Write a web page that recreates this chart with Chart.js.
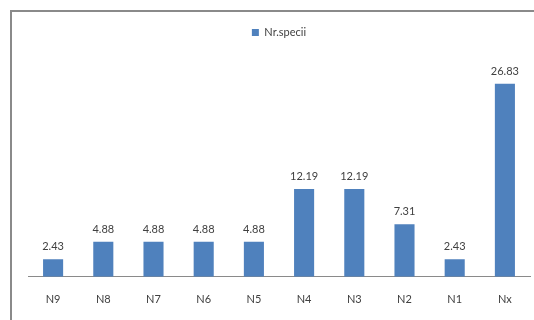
<!DOCTYPE html>
<html>
<head>
<meta charset="utf-8">
<script src="https://cdn.jsdelivr.net/npm/chart.js@4"></script>
<style>
  body { margin: 0; background: #fff; overflow: hidden; }
  #frame {
    position: absolute; left: 10px; top: 10px;
    width: 560px; height: 340px;
    border: 2px solid #8a8a8a;
  }
  #wrap { position: absolute; left: 0; top: 0; width: 534px; height: 322px; }
</style>
</head>
<body>
<div id="frame"></div>
<div id="wrap"><canvas id="chart"></canvas></div>
<script>
const categories = ['N9', 'N8', 'N7', 'N6', 'N5', 'N4', 'N3', 'N2', 'N1', 'Nx'];
const nrSpecii = [2.43, 4.88, 4.88, 4.88, 4.88, 12.19, 12.19, 7.31, 2.43, 26.83];

const fontFamily = 'Lato, "Liberation Sans", sans-serif';

// draws the value above each bar
const valueLabels = {
    id: 'valueLabels',
    afterDatasetsDraw(chart) {
        const ctx = chart.ctx;
        const meta = chart.getDatasetMeta(0);
        ctx.save();
        ctx.font = '11px ' + fontFamily;
        ctx.fillStyle = '#404040';
        ctx.textAlign = 'center';
        ctx.textBaseline = 'bottom';
        meta.data.forEach((bar, i) => {
            const v = chart.data.datasets[0].data[i];
            ctx.fillText(v.toFixed(2), bar.x, bar.y - 7);
        });
        ctx.restore();
    }
};

// extra room under the legend
const legendGap = {
    id: 'legendGap',
    beforeInit(chart) {
        const fit = chart.legend.fit;
        chart.legend.fit = function () {
            fit.bind(chart.legend)();
            this.height += 13;
        };
    }
};

new Chart(document.getElementById('chart').getContext('2d'), {
    type: 'bar',
    data: {
        labels: categories,
        datasets: [{
            label: 'Nr.specii',
            data: nrSpecii,
            backgroundColor: '#4f81bd',
            borderWidth: 0,
            barPercentage: 0.4,
            categoryPercentage: 1.0
        }]
    },
    options: {
        responsive: true,
        maintainAspectRatio: false,
        animation: false,
        layout: { padding: { left: 28, right: 4, top: 17, bottom: 0 } },
        scales: {
            x: {
                grid: { display: false, drawTicks: false },
                border: { display: true, color: '#8a8a8a', width: 1 },
                ticks: { color: '#404040', font: { family: fontFamily, size: 11 }, padding: 16 }
            },
            y: {
                display: false,
                min: 0,
                max: 30
            }
        },
        plugins: {
            legend: {
                display: true,
                position: 'top',
                labels: {
                    color: '#404040',
                    font: { family: fontFamily, size: 11 },
                    boxWidth: 7,
                    boxHeight: 7,
                    padding: 10
                }
            },
            tooltip: { enabled: false }
        }
    },
    plugins: [valueLabels, legendGap]
});
</script>
</body>
</html>
